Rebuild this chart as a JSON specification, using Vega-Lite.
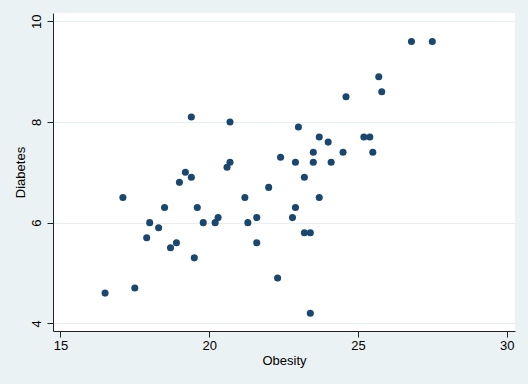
{
  "$schema": "https://vega.github.io/schema/vega-lite/v6.json",
  "width": 462,
  "height": 318,
  "autosize": {"type": "none"},
  "padding": {"left": 53, "top": 13, "right": 13, "bottom": 53},
  "background": "#EAF2F3",
  "config": {
    "view": {"fill": "white", "stroke": null},
    "font": "Liberation Sans",
    "axis": {
      "labelFont": "Liberation Sans",
      "titleFont": "Liberation Sans",
      "labelFontSize": 13,
      "titleFontSize": 13,
      "titleFontWeight": "normal",
      "labelColor": "#000000",
      "titleColor": "#000000",
      "domainColor": "#222222",
      "tickColor": "#222222",
      "tickSize": 6,
      "domainWidth": 1,
      "tickWidth": 1
    }
  },
  "data": {
    "values": [
      {"Obesity": 16.5, "Diabetes": 4.6},
      {"Obesity": 17.5, "Diabetes": 4.7},
      {"Obesity": 17.1, "Diabetes": 6.5},
      {"Obesity": 17.9, "Diabetes": 5.7},
      {"Obesity": 18.0, "Diabetes": 6.0},
      {"Obesity": 18.3, "Diabetes": 5.9},
      {"Obesity": 18.5, "Diabetes": 6.3},
      {"Obesity": 18.7, "Diabetes": 5.5},
      {"Obesity": 18.9, "Diabetes": 5.6},
      {"Obesity": 19.0, "Diabetes": 6.8},
      {"Obesity": 19.2, "Diabetes": 7.0},
      {"Obesity": 19.4, "Diabetes": 6.9},
      {"Obesity": 19.4, "Diabetes": 8.1},
      {"Obesity": 19.5, "Diabetes": 5.3},
      {"Obesity": 19.6, "Diabetes": 6.3},
      {"Obesity": 19.8, "Diabetes": 6.0},
      {"Obesity": 20.2, "Diabetes": 6.0},
      {"Obesity": 20.3, "Diabetes": 6.1},
      {"Obesity": 20.6, "Diabetes": 7.1},
      {"Obesity": 20.7, "Diabetes": 7.2},
      {"Obesity": 20.7, "Diabetes": 8.0},
      {"Obesity": 21.2, "Diabetes": 6.5},
      {"Obesity": 21.3, "Diabetes": 6.0},
      {"Obesity": 21.6, "Diabetes": 6.1},
      {"Obesity": 21.6, "Diabetes": 5.6},
      {"Obesity": 22.0, "Diabetes": 6.7},
      {"Obesity": 22.3, "Diabetes": 4.9},
      {"Obesity": 22.4, "Diabetes": 7.3},
      {"Obesity": 22.8, "Diabetes": 6.1},
      {"Obesity": 22.9, "Diabetes": 6.3},
      {"Obesity": 22.9, "Diabetes": 7.2},
      {"Obesity": 23.0, "Diabetes": 7.9},
      {"Obesity": 23.2, "Diabetes": 6.9},
      {"Obesity": 23.2, "Diabetes": 5.8},
      {"Obesity": 23.4, "Diabetes": 5.8},
      {"Obesity": 23.4, "Diabetes": 4.2},
      {"Obesity": 23.5, "Diabetes": 7.4},
      {"Obesity": 23.5, "Diabetes": 7.2},
      {"Obesity": 23.7, "Diabetes": 7.7},
      {"Obesity": 23.7, "Diabetes": 6.5},
      {"Obesity": 24.0, "Diabetes": 7.6},
      {"Obesity": 24.1, "Diabetes": 7.2},
      {"Obesity": 24.5, "Diabetes": 7.4},
      {"Obesity": 24.6, "Diabetes": 8.5},
      {"Obesity": 25.2, "Diabetes": 7.7},
      {"Obesity": 25.4, "Diabetes": 7.7},
      {"Obesity": 25.5, "Diabetes": 7.4},
      {"Obesity": 25.7, "Diabetes": 8.9},
      {"Obesity": 25.8, "Diabetes": 8.6},
      {"Obesity": 26.8, "Diabetes": 9.6},
      {"Obesity": 27.5, "Diabetes": 9.6}
    ]
  },
  "mark": {"type": "circle", "size": 50, "color": "#1A476F", "opacity": 1},
  "encoding": {
    "x": {
      "field": "Obesity",
      "type": "quantitative",
      "scale": {"domain": [14.75, 30.28], "nice": false, "zero": false},
      "axis": {
        "values": [15, 20, 25, 30],
        "grid": false,
        "labelPadding": 2,
        "titlePadding": 2,
        "labelFlush": false
      }
    },
    "y": {
      "field": "Diabetes",
      "type": "quantitative",
      "scale": {"domain": [3.847, 10.165], "nice": false, "zero": false},
      "axis": {
        "values": [4, 6, 8, 10],
        "grid": true,
        "gridColor": "#E6EEF0",
        "gridWidth": 1,
        "labelAngle": -90,
        "labelAlign": "center",
        "labelBaseline": "bottom",
        "labelPadding": 4,
        "titlePadding": 3,
        "labelFlush": false
      }
    }
  }
}
